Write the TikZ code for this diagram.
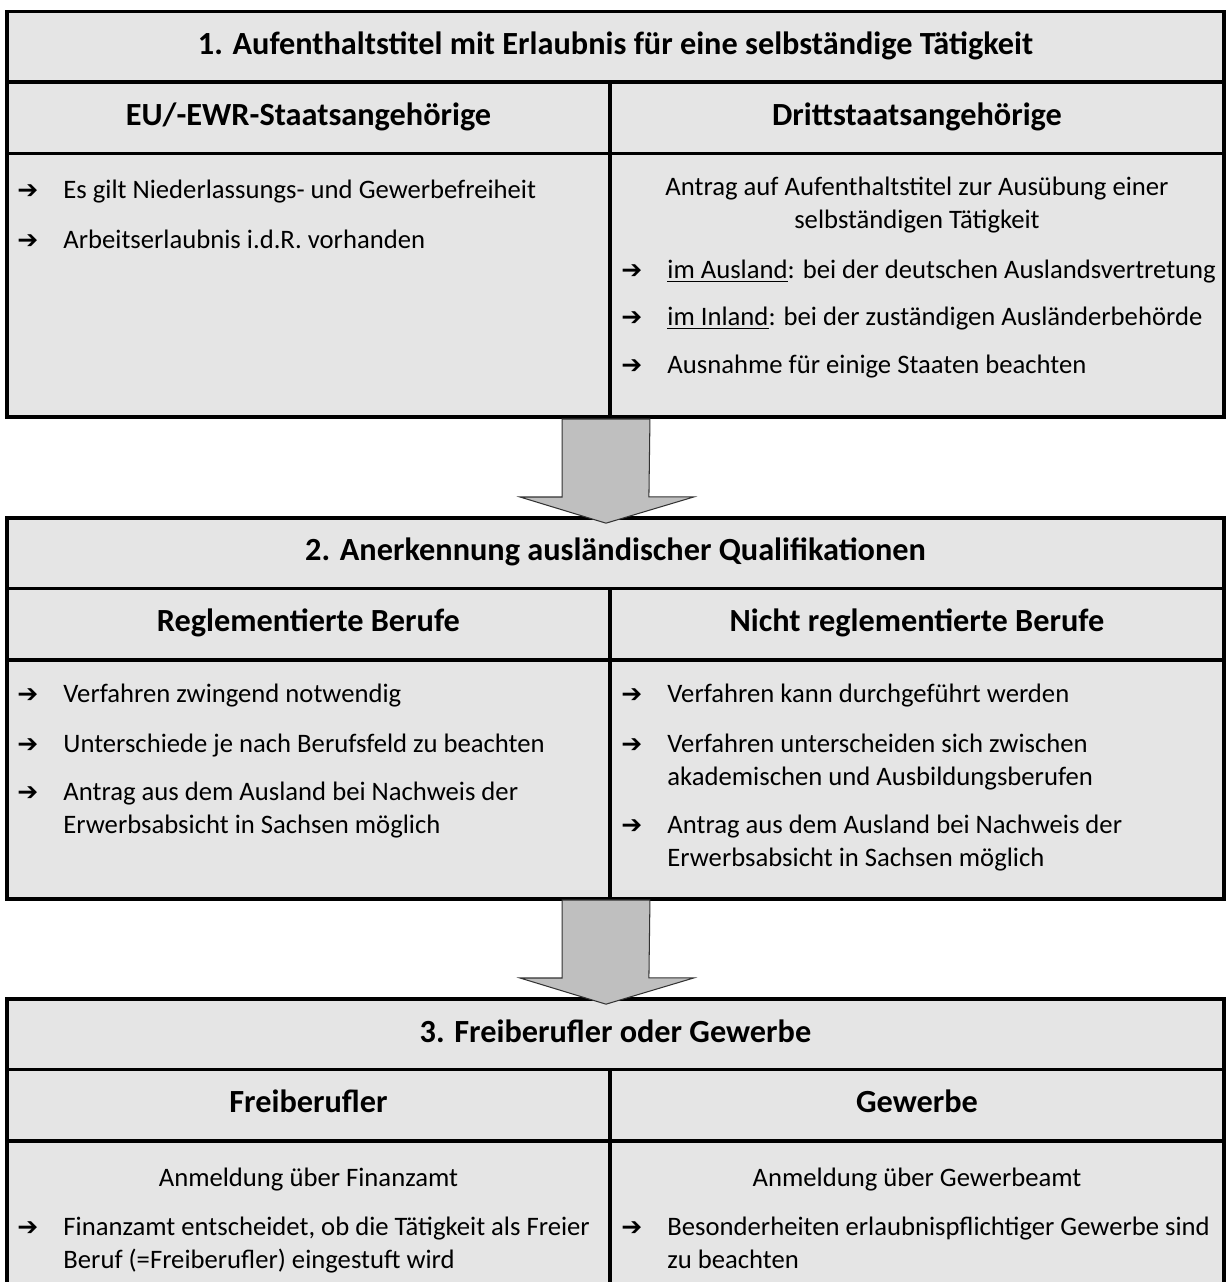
\documentclass[tikz,border=0pt]{standalone}
\usepackage{fontspec}
\setmainfont{Carlito}
\newfontfamily\arrowfont{DejaVu Sans}[BoldFont=DejaVu Sans Bold]
\usetikzlibrary{positioning}

\tikzset{
  frame/.style={line width=1.7pt},
  boxfill/.style={fill=black!10},
  blockarrow/.style={fill=black!25,draw=black!80,line width=0.5pt,line join=miter},
  title/.style={inner sep=0pt,anchor=base,font=\fontsize{15.5}{18}\selectfont\bfseries},
  head/.style={inner sep=0pt,anchor=base,font=\fontsize{15.5}{18}\selectfont\bfseries},
  ctr/.style={inner sep=0pt,anchor=base,font=\fontsize{12.8}{15}\selectfont},
  txt/.style={inner sep=0pt,anchor=base west,font=\fontsize{12.8}{15}\selectfont},
  bulmark/.style={inner sep=0pt,anchor=base west,font=\arrowfont\bfseries\fontsize{12}{14}\selectfont}
}

\begin{document}
\begin{tikzpicture}[x=0.48pt,y=-0.48pt]

\useasboundingbox (0,0) rectangle (1227,1282);
\clip (0,0) rectangle (1227,1282);

% three tables
\foreach \t/\b in {11.5/417,518/899,999/1330}{
	\fill[boxfill] (7,\t) rectangle (1224,\b);
	\draw[frame] (7,{\t+70.5})--(1224,{\t+70.5});
	\draw[frame] (7,{\t+142})--(1224,{\t+142});
	\draw[frame] (610,{\t+70.5})--(610,\b);
	\draw[frame] (7,\t) rectangle (1224,\b);
}

% block arrows between the tables
\coordinate (a1) at (606,419);
\coordinate (a2) at (606,900);
\foreach \a in {a1,a2}{
	\draw[blockarrow] ([xshift=-21.1pt]\a) -- ++(0,78) -- ++(-42,0) -- ([yshift=-50pt]\a)
		-- ([xshift=42.2pt,yshift=-37.4pt]\a) -- ++(-45,0) -- ([xshift=21.1pt]\a) -- cycle;
}

% 1.
\node[title] (t1) at (615.5,54) {1. Aufenthaltstitel mit Erlaubnis für eine selbständige Tätigkeit};
\node[head] (h1l) at (308.5,125) {EU/-EWR-Staatsangehörige};
\node[head] (h1r) at (917,125) {Drittstaatsangehörige};
\node[txt] (l1a) at (63,198) {Es gilt Niederlassungs- und Gewerbefreiheit};
\node[txt] (l1b) at (63,248) {Arbeitserlaubnis i.d.R. vorhanden};
\node[ctr] (r1a) at (917,195) {Antrag auf Aufenthaltstitel zur Ausübung einer};
\node[ctr] (r1b) at (917,228) {selbständigen Tätigkeit};
\node[txt] (r1c) at (667,278) {\underline{im Ausland}: bei der deutschen Auslandsvertretung};
\node[txt] (r1d) at (667,325) {\underline{im Inland}: bei der zuständigen Ausländerbehörde};
\node[txt] (r1e) at (667,373) {Ausnahme für einige Staaten beachten};

% 2.
\node[title] (t2) at (615.5,560.5) {2. Anerkennung ausländischer Qualifikationen};
\node[head] (h2l) at (308.5,631) {Reglementierte Berufe};
\node[head] (h2r) at (917,631) {Nicht reglementierte Berufe};
\node[txt] (l2a) at (63,702) {Verfahren zwingend notwendig};
\node[txt] (l2b) at (63,752) {Unterschiede je nach Berufsfeld zu beachten};
\node[txt] (l2c) at (63,800) {Antrag aus dem Ausland bei Nachweis der};
\node[txt] (l2d) at (63,833) {Erwerbsabsicht in Sachsen möglich};
\node[txt] (r2a) at (667,702) {Verfahren kann durchgeführt werden};
\node[txt] (r2b) at (667,752) {Verfahren unterscheiden sich zwischen};
\node[txt] (r2c) at (667,785) {akademischen und Ausbildungsberufen};
\node[txt] (r2d) at (667,833) {Antrag aus dem Ausland bei Nachweis der};
\node[txt] (r2e) at (667,866) {Erwerbsabsicht in Sachsen möglich};

% 3.
\node[title] (t3) at (615.5,1042) {3. Freiberufler oder Gewerbe};
\node[head] (h3l) at (308.5,1112.5) {Freiberufler};
\node[head] (h3r) at (917,1112.5) {Gewerbe};
\node[ctr] (l3a) at (308.5,1186) {Anmeldung über Finanzamt};
\node[txt] (l3b) at (63,1235) {Finanzamt entscheidet, ob die Tätigkeit als Freier};
\node[txt] (l3c) at (63,1268) {Beruf (=Freiberufler) eingestuft wird};
\node[ctr] (r3a) at (917,1186) {Anmeldung über Gewerbeamt};
\node[txt] (r3b) at (667,1235) {Besonderheiten erlaubnispflichtiger Gewerbe sind};
\node[txt] (r3c) at (667,1268) {zu beachten};

% bullet marks
\foreach \y [count=\i] in {198,248,702,752,800,1235}
	\node[bulmark] (ml\i) at (17,\y) {➔};
\foreach \y [count=\i] in {278,325,373,702,752,833,1235}
	\node[bulmark] (mr\i) at (621,\y) {➔};

\end{tikzpicture}
\end{document}
